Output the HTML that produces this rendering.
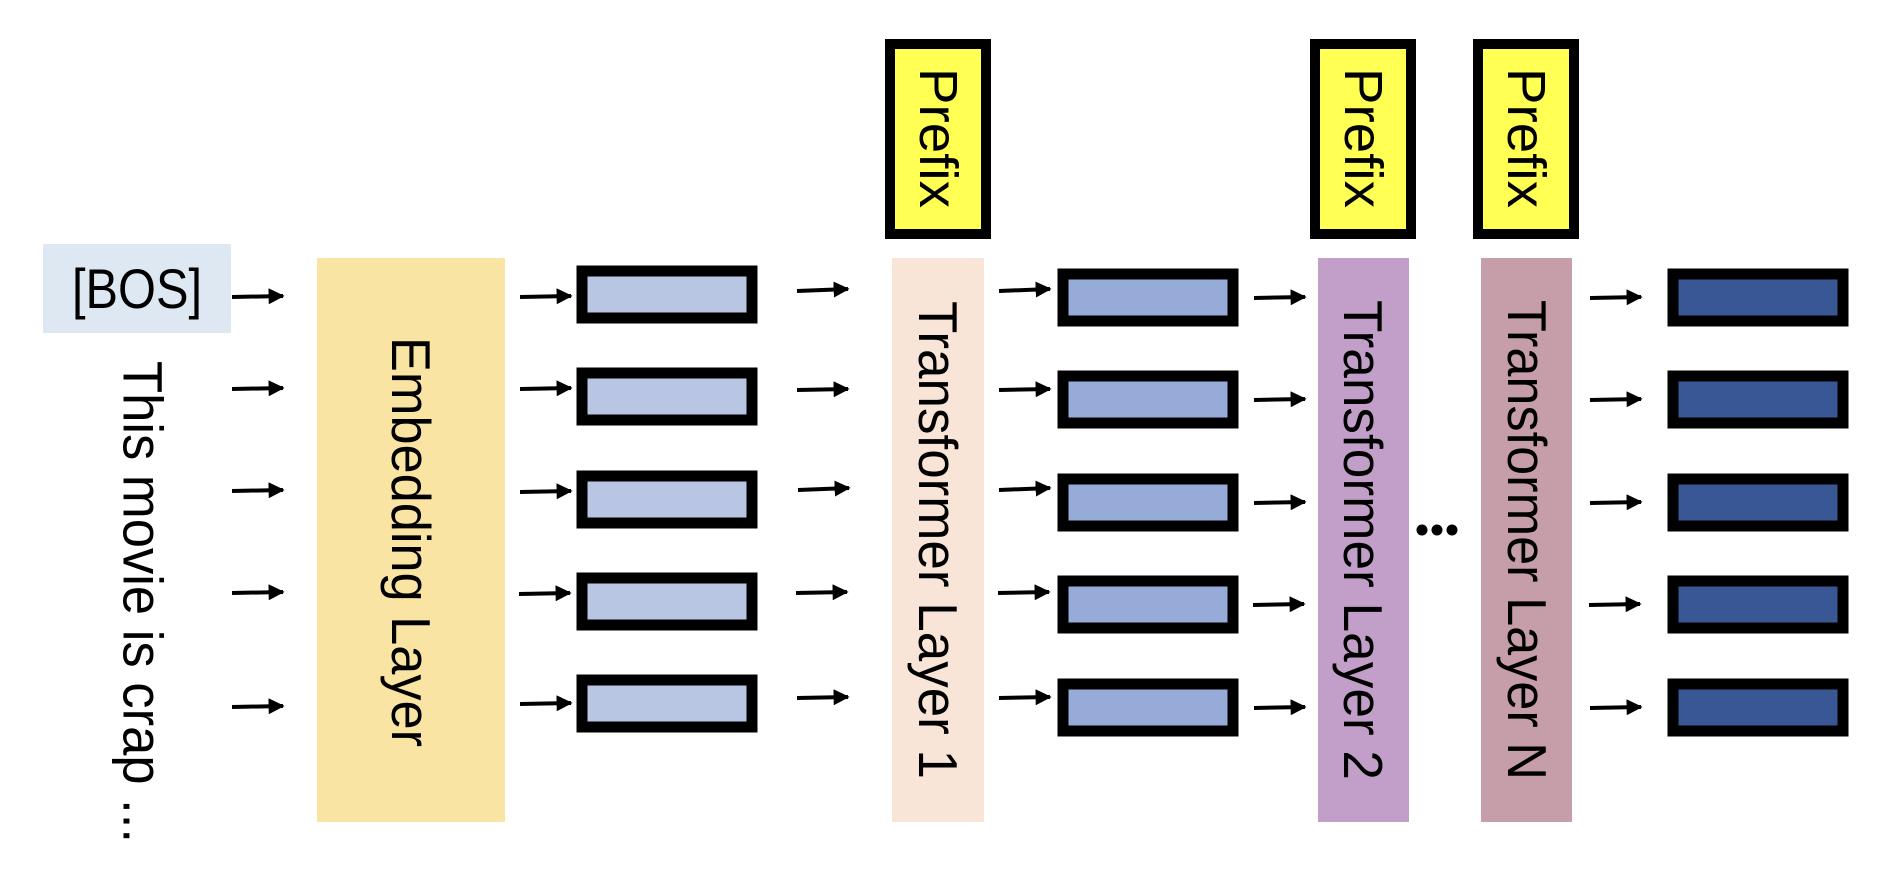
<!DOCTYPE html>
<html><head><meta charset="utf-8"><style>html,body{margin:0;padding:0;background:#fff}svg{display:block}</style></head>
<body>
<svg width="1888" height="884" viewBox="0 0 1888 884" xmlns="http://www.w3.org/2000/svg" font-family="Liberation Sans, sans-serif">
<defs>
<marker id="ah" markerWidth="4" markerHeight="4" refX="3.6" refY="2" orient="auto" markerUnits="strokeWidth">
<path d="M0,0 L4,2 L0,4 z" fill="#000"/>
</marker>
</defs>
<!-- BOS -->
<rect x="43" y="244" width="188" height="89" fill="#dee8f3"/>
<text x="137" y="308" font-size="56" text-anchor="middle" textLength="130" lengthAdjust="spacingAndGlyphs">[BOS]</text>
<text transform="translate(143,602) rotate(90)" font-size="56" text-anchor="middle" dominant-baseline="central" textLength="482" lengthAdjust="spacingAndGlyphs">This movie is crap ...</text>
<!-- Embedding -->
<rect x="317" y="258" width="188" height="564" fill="#fae4a4"/>
<text transform="translate(411,542) rotate(90)" font-size="55" text-anchor="middle" dominant-baseline="central" textLength="410" lengthAdjust="spacingAndGlyphs">Embedding Layer</text>
<!-- Transformer 1 -->
<rect x="892" y="258" width="92" height="564" fill="#f8e5d8"/>
<text transform="translate(938,540) rotate(90)" font-size="55" text-anchor="middle" dominant-baseline="central" textLength="478" lengthAdjust="spacingAndGlyphs">Transformer Layer 1</text>
<!-- Transformer 2 -->
<rect x="1318" y="258" width="91" height="564" fill="#c29fc9"/>
<text transform="translate(1363,540) rotate(90)" font-size="55" text-anchor="middle" dominant-baseline="central" textLength="480" lengthAdjust="spacingAndGlyphs">Transformer Layer 2</text>
<!-- Transformer N -->
<rect x="1481" y="258" width="91" height="564" fill="#c59ea9"/>
<text transform="translate(1527,540) rotate(90)" font-size="55" text-anchor="middle" dominant-baseline="central" textLength="480" lengthAdjust="spacingAndGlyphs">Transformer Layer N</text>
<!-- dots -->
<circle cx="1422" cy="530" r="5.5" fill="#000"/><circle cx="1437" cy="530" r="5.5" fill="#000"/><circle cx="1452" cy="530" r="5.5" fill="#000"/>
<!-- Prefixes -->
<g fill="#ffff54" stroke="#000" stroke-width="10">
<rect x="890" y="44" width="96" height="190"/>
<rect x="1315" y="44" width="96" height="190"/>
<rect x="1478" y="44" width="96" height="190"/>
</g>
<g font-size="54" text-anchor="middle" dominant-baseline="central">
<text transform="translate(938,138) rotate(90)" textLength="140" lengthAdjust="spacingAndGlyphs">Prefix</text>
<text transform="translate(1363,138) rotate(90)" textLength="140" lengthAdjust="spacingAndGlyphs">Prefix</text>
<text transform="translate(1526,138) rotate(90)" textLength="140" lengthAdjust="spacingAndGlyphs">Prefix</text>
</g>
<!-- vector rects -->
<g stroke="#000" stroke-width="11">
<g fill="#b8c6e3">
<rect x="582" y="271" width="170" height="47"/>
<rect x="582" y="373" width="170" height="47"/>
<rect x="582" y="476" width="170" height="47"/>
<rect x="582" y="578" width="170" height="47"/>
<rect x="582" y="680" width="170" height="47"/>
</g>
<g fill="#97abd9">
<rect x="1063" y="274" width="170" height="47"/>
<rect x="1063" y="376" width="170" height="47"/>
<rect x="1063" y="479" width="170" height="47"/>
<rect x="1063" y="581" width="170" height="47"/>
<rect x="1063" y="684" width="170" height="47"/>
</g>
<g fill="#3a5795">
<rect x="1673" y="274" width="170" height="47"/>
<rect x="1673" y="376" width="170" height="47"/>
<rect x="1673" y="479" width="170" height="47"/>
<rect x="1673" y="581" width="170" height="47"/>
<rect x="1673" y="684" width="170" height="47"/>
</g>
</g>
<!-- arrows -->
<g stroke="#000" stroke-width="4" marker-end="url(#ah)">
<line x1="232" y1="297" x2="283" y2="296"/>
<line x1="232" y1="389" x2="283" y2="388"/>
<line x1="232" y1="491" x2="283" y2="490"/>
<line x1="232" y1="593" x2="283" y2="592"/>
<line x1="232" y1="707" x2="283" y2="706"/>

<line x1="520" y1="297" x2="571" y2="296"/>
<line x1="520" y1="389" x2="571" y2="388"/>
<line x1="520" y1="492" x2="571" y2="491"/>
<line x1="519" y1="594" x2="570" y2="593"/>
<line x1="520" y1="704" x2="571" y2="703"/>

<line x1="797" y1="291" x2="848" y2="289"/>
<line x1="797" y1="390" x2="848" y2="389"/>
<line x1="798" y1="490" x2="849" y2="488"/>
<line x1="796" y1="593" x2="847" y2="592"/>
<line x1="797" y1="698" x2="848" y2="697"/>

<line x1="999" y1="291" x2="1050" y2="289"/>
<line x1="999" y1="390" x2="1050" y2="389"/>
<line x1="999" y1="490" x2="1050" y2="488"/>
<line x1="998" y1="593" x2="1049" y2="592"/>
<line x1="999" y1="698" x2="1050" y2="697"/>

<line x1="1254" y1="298" x2="1305" y2="297"/>
<line x1="1254" y1="400" x2="1305" y2="399"/>
<line x1="1254" y1="503" x2="1305" y2="502"/>
<line x1="1253" y1="605" x2="1304" y2="604"/>
<line x1="1254" y1="708" x2="1305" y2="707"/>

<line x1="1590" y1="298" x2="1641" y2="297"/>
<line x1="1590" y1="400" x2="1641" y2="399"/>
<line x1="1590" y1="503" x2="1641" y2="502"/>
<line x1="1589" y1="605" x2="1640" y2="604"/>
<line x1="1590" y1="708" x2="1641" y2="707"/>
</g>
</svg>
</body></html>
